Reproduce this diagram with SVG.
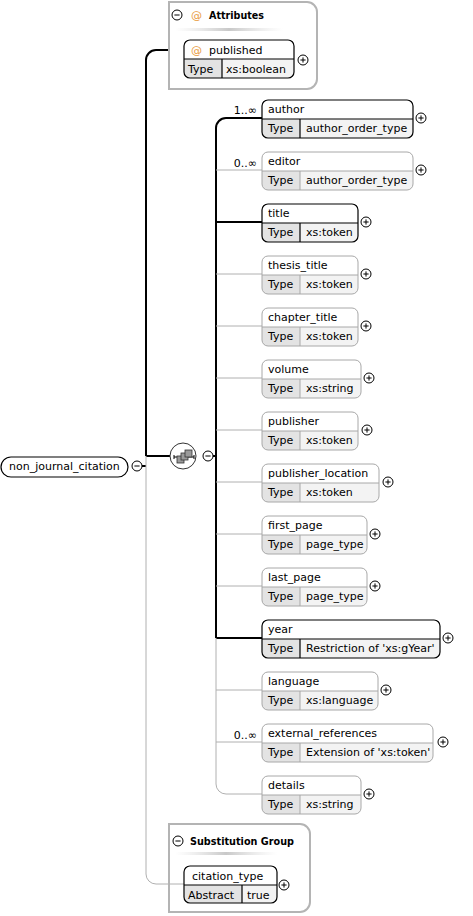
<svg xmlns="http://www.w3.org/2000/svg" xmlns:xlink="http://www.w3.org/1999/xlink" width="473" height="916" viewBox="0 0 473 916">
<style>
.t{font-family:"DejaVu Sans",Verdana,sans-serif;font-size:11px;fill:#000}
.b{font-weight:bold}
.at{fill:#e89a3c}
.card{font-family:"DejaVu Sans",Verdana,sans-serif;font-size:11px;fill:#000;text-anchor:end}
.req{fill:none;stroke:#000;stroke-width:1.2}
.opt{fill:none;stroke:#a8a8a8;stroke-width:1}
.cr{fill:none;stroke:#000;stroke-width:2}
.co{fill:none;stroke:#b0b0b0;stroke-width:1}
.tc{fill:#e3e3e3}
.vc{fill:#f3f3f3}
.grp{fill:#fff;stroke:#b4b4b4;stroke-width:2}
.pmc{fill:#fff;stroke:#000;stroke-width:1}
.sq{fill:#9a9a9a;stroke:#333;stroke-width:0.8}
</style>
<defs>
<g id="plus"><circle class="pmc" r="5"/><path d="M-2.6,0H2.6M0,-2.6V2.6" stroke="#000" stroke-width="1"/></g>
<g id="minus"><circle class="pmc" r="5"/><path d="M-2.6,0H2.6" stroke="#000" stroke-width="1"/></g>
<linearGradient id="sep" x1="0" x2="1" y1="0" y2="0">
<stop offset="0" stop-color="#ddd" stop-opacity="0"/>
<stop offset="0.5" stop-color="#c8c8c8"/>
<stop offset="1" stop-color="#ddd" stop-opacity="0"/>
</linearGradient>
</defs>
<rect width="473" height="916" fill="#fff"/>

<g id="connectors">
<path class="cr" d="M146,456V60A10,10 0 0 1 156,50H169"/>
<path class="cr" d="M142,466H146M146,456H170"/>
<path class="co" d="M146,456V874A10,10 0 0 0 156,884H184"/>
<path class="cr" d="M213,456H216"/>
<path class="cr" d="M216,638V128A10,10 0 0 1 226,118H262"/>
<path class="cr" d="M216,222H262M216,638H262"/>
<path class="co" d="M216,638V784A10,10 0 0 0 226,794H262"/>
<path class="co" d="M216,170H262M216,274H262M216,326H262M216,378H262M216,430H262M216,482H262M216,534H262M216,586H262M216,690H262M216,742H262"/>
</g>

<g id="attributes">
<path class="grp" d="M169,2H307A10,10 0 0 1 317,12V79A10,10 0 0 1 307,89H169Z"/>
<use xlink:href="#minus" x="177" y="15"/>
<text class="t at" x="191" y="19">@</text>
<text class="t b" x="209" y="19" textLength="55" lengthAdjust="spacingAndGlyphs">Attributes</text>
<rect x="175" y="28" width="108" height="3" fill="url(#sep)"/>
</g>

<g id="published" transform="translate(184,40)">
<rect width="110" height="38" rx="6" fill="#fff"/>
<path class="vc" d="M0,19H110V32A6,6 0 0 1 104,38H6A6,6 0 0 1 0,32Z"/>
<path class="tc" d="M0,19H38V38H6A6,6 0 0 1 0,32Z"/>
<path class="req" d="M0,19H110M38,19V38"/>
<rect class="req" width="110" height="38" rx="6"/>
<text class="t at" x="7" y="14">@</text>
<text class="t" x="25" y="14">published</text>
<text class="t" x="4" y="33">Type</text>
<text class="t" x="42" y="33">xs:boolean</text>
<use xlink:href="#plus" x="119" y="20"/>
</g>

<g id="non_journal_citation">
<rect class="req" x="1" y="457" width="127" height="20" rx="10" fill="#fff"/>
<text class="t" x="9" y="470">non_journal_citation</text>
<use xlink:href="#minus" x="137" y="466"/>
</g>

<g id="sequence">
<circle cx="183" cy="456" r="13" fill="#fff" stroke="#333" stroke-width="1"/>
<path d="M174,457H194M174,455V459M194,455V459" stroke="#000" stroke-width="1" fill="none"/>
<rect class="sq" x="177" y="456" width="7" height="7"/>
<rect class="sq" x="181" y="453" width="7" height="7"/>
<rect class="sq" x="185" y="450" width="7" height="7"/>
<use xlink:href="#minus" x="208" y="456"/>
</g>

<g id="author" transform="translate(262,100)">
<path class="vc" d="M0,19H151V32A6,6 0 0 1 145,38H6A6,6 0 0 1 0,32Z"/>
<path class="tc" d="M0,19H38V38H6A6,6 0 0 1 0,32Z"/>
<path class="req" d="M0,19H151M38,19V38"/>
<rect class="req" width="151" height="38" rx="6"/>
<text class="t" x="6" y="13">author</text>
<text class="t" x="6" y="32">Type</text>
<text class="t" x="44" y="32">author_order_type</text>
<text class="card" x="-5" y="14">1..∞</text>
<use xlink:href="#plus" x="159" y="18"/>
</g>

<g id="editor" transform="translate(262,152)">
<path class="vc" d="M0,19H151V32A6,6 0 0 1 145,38H6A6,6 0 0 1 0,32Z"/>
<path class="tc" d="M0,19H38V38H6A6,6 0 0 1 0,32Z"/>
<path class="opt" d="M0,19H151M38,19V38"/>
<rect class="opt" width="151" height="38" rx="6"/>
<text class="t" x="6" y="13">editor</text>
<text class="t" x="6" y="32">Type</text>
<text class="t" x="44" y="32">author_order_type</text>
<text class="card" x="-5" y="15">0..∞</text>
<use xlink:href="#plus" x="159" y="18"/>
</g>

<g id="title" transform="translate(262,204)">
<path class="vc" d="M0,19H96V32A6,6 0 0 1 90,38H6A6,6 0 0 1 0,32Z"/>
<path class="tc" d="M0,19H38V38H6A6,6 0 0 1 0,32Z"/>
<path class="req" d="M0,19H96M38,19V38"/>
<rect class="req" width="96" height="38" rx="6"/>
<text class="t" x="6" y="13">title</text>
<text class="t" x="6" y="32">Type</text>
<text class="t" x="44" y="32">xs:token</text>
<use xlink:href="#plus" x="104" y="18"/>
</g>

<g id="thesis_title" transform="translate(262,256)">
<path class="vc" d="M0,19H96V32A6,6 0 0 1 90,38H6A6,6 0 0 1 0,32Z"/>
<path class="tc" d="M0,19H38V38H6A6,6 0 0 1 0,32Z"/>
<path class="opt" d="M0,19H96M38,19V38"/>
<rect class="opt" width="96" height="38" rx="6"/>
<text class="t" x="6" y="13">thesis_title</text>
<text class="t" x="6" y="32">Type</text>
<text class="t" x="44" y="32">xs:token</text>
<use xlink:href="#plus" x="104" y="18"/>
</g>

<g id="chapter_title" transform="translate(262,308)">
<path class="vc" d="M0,19H96V32A6,6 0 0 1 90,38H6A6,6 0 0 1 0,32Z"/>
<path class="tc" d="M0,19H38V38H6A6,6 0 0 1 0,32Z"/>
<path class="opt" d="M0,19H96M38,19V38"/>
<rect class="opt" width="96" height="38" rx="6"/>
<text class="t" x="6" y="13">chapter_title</text>
<text class="t" x="6" y="32">Type</text>
<text class="t" x="44" y="32">xs:token</text>
<use xlink:href="#plus" x="104" y="18"/>
</g>

<g id="volume" transform="translate(262,360)">
<path class="vc" d="M0,19H99V32A6,6 0 0 1 93,38H6A6,6 0 0 1 0,32Z"/>
<path class="tc" d="M0,19H38V38H6A6,6 0 0 1 0,32Z"/>
<path class="opt" d="M0,19H99M38,19V38"/>
<rect class="opt" width="99" height="38" rx="6"/>
<text class="t" x="6" y="13">volume</text>
<text class="t" x="6" y="32">Type</text>
<text class="t" x="44" y="32">xs:string</text>
<use xlink:href="#plus" x="107" y="18"/>
</g>

<g id="publisher" transform="translate(262,412)">
<path class="vc" d="M0,19H96V32A6,6 0 0 1 90,38H6A6,6 0 0 1 0,32Z"/>
<path class="tc" d="M0,19H38V38H6A6,6 0 0 1 0,32Z"/>
<path class="opt" d="M0,19H96M38,19V38"/>
<rect class="opt" width="96" height="38" rx="6"/>
<text class="t" x="6" y="13">publisher</text>
<text class="t" x="6" y="32">Type</text>
<text class="t" x="44" y="32">xs:token</text>
<use xlink:href="#plus" x="105" y="18"/>
</g>

<g id="publisher_location" transform="translate(262,464)">
<path class="vc" d="M0,19H117V32A6,6 0 0 1 111,38H6A6,6 0 0 1 0,32Z"/>
<path class="tc" d="M0,19H38V38H6A6,6 0 0 1 0,32Z"/>
<path class="opt" d="M0,19H117M38,19V38"/>
<rect class="opt" width="117" height="38" rx="6"/>
<text class="t" x="6" y="13">publisher_location</text>
<text class="t" x="6" y="32">Type</text>
<text class="t" x="44" y="32">xs:token</text>
<use xlink:href="#plus" x="126" y="18"/>
</g>

<g id="first_page" transform="translate(262,516)">
<path class="vc" d="M0,19H105V32A6,6 0 0 1 99,38H6A6,6 0 0 1 0,32Z"/>
<path class="tc" d="M0,19H38V38H6A6,6 0 0 1 0,32Z"/>
<path class="opt" d="M0,19H105M38,19V38"/>
<rect class="opt" width="105" height="38" rx="6"/>
<text class="t" x="6" y="13">first_page</text>
<text class="t" x="6" y="32">Type</text>
<text class="t" x="44" y="32">page_type</text>
<use xlink:href="#plus" x="113" y="18"/>
</g>

<g id="last_page" transform="translate(262,568)">
<path class="vc" d="M0,19H105V32A6,6 0 0 1 99,38H6A6,6 0 0 1 0,32Z"/>
<path class="tc" d="M0,19H38V38H6A6,6 0 0 1 0,32Z"/>
<path class="opt" d="M0,19H105M38,19V38"/>
<rect class="opt" width="105" height="38" rx="6"/>
<text class="t" x="6" y="13">last_page</text>
<text class="t" x="6" y="32">Type</text>
<text class="t" x="44" y="32">page_type</text>
<use xlink:href="#plus" x="113" y="18"/>
</g>

<g id="year" transform="translate(262,620)">
<path class="vc" d="M0,19H178V32A6,6 0 0 1 172,38H6A6,6 0 0 1 0,32Z"/>
<path class="tc" d="M0,19H38V38H6A6,6 0 0 1 0,32Z"/>
<path class="req" d="M0,19H178M38,19V38"/>
<rect class="req" width="178" height="38" rx="6"/>
<text class="t" x="6" y="13">year</text>
<text class="t" x="6" y="32">Type</text>
<text class="t" x="44" y="32">Restriction of 'xs:gYear'</text>
<use xlink:href="#plus" x="186" y="18"/>
</g>

<g id="language" transform="translate(262,672)">
<path class="vc" d="M0,19H116V32A6,6 0 0 1 110,38H6A6,6 0 0 1 0,32Z"/>
<path class="tc" d="M0,19H38V38H6A6,6 0 0 1 0,32Z"/>
<path class="opt" d="M0,19H116M38,19V38"/>
<rect class="opt" width="116" height="38" rx="6"/>
<text class="t" x="6" y="13">language</text>
<text class="t" x="6" y="32">Type</text>
<text class="t" x="44" y="32">xs:language</text>
<use xlink:href="#plus" x="124" y="18"/>
</g>

<g id="external_references" transform="translate(262,724)">
<path class="vc" d="M0,19H171V32A6,6 0 0 1 165,38H6A6,6 0 0 1 0,32Z"/>
<path class="tc" d="M0,19H38V38H6A6,6 0 0 1 0,32Z"/>
<path class="opt" d="M0,19H171M38,19V38"/>
<rect class="opt" width="171" height="38" rx="6"/>
<text class="t" x="6" y="13">external_references</text>
<text class="t" x="6" y="32">Type</text>
<text class="t" x="44" y="32">Extension of 'xs:token'</text>
<text class="card" x="-5" y="15">0..∞</text>
<use xlink:href="#plus" x="181" y="18"/>
</g>

<g id="details" transform="translate(262,776)">
<path class="vc" d="M0,19H99V32A6,6 0 0 1 93,38H6A6,6 0 0 1 0,32Z"/>
<path class="tc" d="M0,19H38V38H6A6,6 0 0 1 0,32Z"/>
<path class="opt" d="M0,19H99M38,19V38"/>
<rect class="opt" width="99" height="38" rx="6"/>
<text class="t" x="6" y="13">details</text>
<text class="t" x="6" y="32">Type</text>
<text class="t" x="44" y="32">xs:string</text>
<use xlink:href="#plus" x="107" y="18"/>
</g>

<g id="substitution_group">
<path class="grp" d="M169,824H300A10,10 0 0 1 310,834V902A10,10 0 0 1 300,912H169Z"/>
<use xlink:href="#minus" x="178" y="841"/>
<text class="t b" x="190" y="845" textLength="104" lengthAdjust="spacingAndGlyphs">Substitution Group</text>
<rect x="175" y="852" width="102" height="3" fill="url(#sep)"/>
</g>
<path class="co" d="M169,884H184"/>

<g id="citation_type" transform="translate(184,866)">
<rect width="93" height="37" rx="6" fill="#fff"/>
<path class="vc" d="M0,19H93V31A6,6 0 0 1 87,37H6A6,6 0 0 1 0,31Z"/>
<path class="tc" d="M0,19H58V37H6A6,6 0 0 1 0,31Z"/>
<path class="req" d="M0,19H93M58,19V37"/>
<rect class="req" width="93" height="37" rx="6"/>
<text class="t" x="8" y="14">citation_type</text>
<text class="t" x="4" y="33">Abstract</text>
<text class="t" x="63" y="33">true</text>
<use xlink:href="#plus" x="100" y="19"/>
</g>
</svg>
